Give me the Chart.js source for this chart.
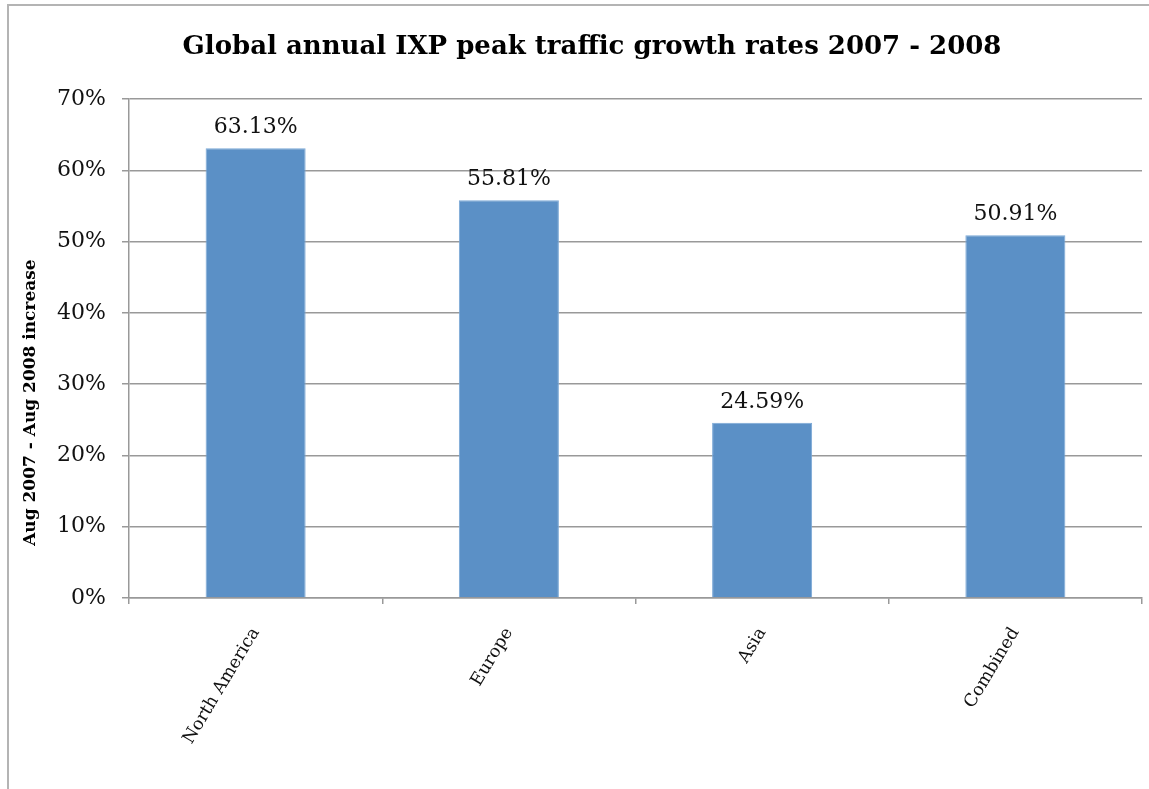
<!DOCTYPE html>
<html>
<head>
<meta charset="utf-8">
<script src="https://cdn.jsdelivr.net/npm/chart.js@4"></script>
<style>
  body { margin: 0; background: #fff; overflow: hidden; }
  #frame { position: absolute; left: 7px; top: 4px; width: 1142px; height: 785px;
           border-left: 2px solid #b4b4b4; border-top: 2px solid #b4b4b4; }
  #canvas { position: absolute; left: 0; top: 0; }
</style>
</head>
<body>
<div id="frame"></div>
<canvas id="canvas" width="1149" height="789"></canvas>
<script>
var regions = ['North America', 'Europe', 'Asia', 'Combined'];
var growth = [63.13, 55.81, 24.59, 50.91];
var yTicks = [0, 10, 20, 30, 40, 50, 60, 70];
var yTitle = 'Aug 2007 - Aug 2008 increase';

var gridGray = '#999999';
var serif = "'DejaVu Serif', 'Liberation Serif', serif";

// writes the value above each bar, and the y title (sits lower than centre in the original)
var valueLabels = {
  id: 'valueLabels',
  afterDatasetsDraw: function(chart) {
    var ctx = chart.ctx;
    var meta = chart.getDatasetMeta(0);
    var area = chart.chartArea;
    ctx.save();
    ctx.font = '22px ' + serif;
    ctx.fillStyle = '#111';
    ctx.textAlign = 'center';
    ctx.textBaseline = 'alphabetic';
    meta.data.forEach(function(bar, i) {
      ctx.fillText(growth[i].toFixed(2) + '%', bar.x, bar.y - 15);
    });

    ctx.translate(31, (area.top + area.bottom) / 2 + 54);
    ctx.rotate(-Math.PI / 2);
    ctx.font = 'bold 17px ' + serif;
    ctx.fillStyle = '#000';
    ctx.textBaseline = 'middle';
    ctx.fillText(yTitle, 0, 0);
    ctx.restore();
  }
};

const ctx = document.getElementById('canvas').getContext('2d');

const myChart = new Chart(ctx, {
  type: 'bar',
  data: {
    labels: regions,
    datasets: [{
      label: 'Growth',
      data: growth,
      backgroundColor: '#5b90c6',
      borderColor: '#7aa8d6',
      borderWidth: 1,
      categoryPercentage: 1,
      barPercentage: 0.395
    }]
  },
  options: {
    responsive: false,
    animation: false,
    // big left padding moves the title centre right, the y axis is narrowed to match
    layout: { padding: { left: 42, right: 7, top: 0, bottom: 0 } },
    plugins: {
      legend: { display: false },
      tooltip: { enabled: false },
      title: {
        display: true,
        text: 'Global annual IXP peak traffic growth rates 2007 - 2008',
        color: '#000',
        font: { family: serif, size: 26, weight: 'bold' },
        padding: { top: 32, bottom: 36 }
      }
    },
    scales: {
      x: {
        grid: {
          offset: true,
          color: function(c) { return c.index === regions.length ? gridGray : 'rgba(0,0,0,0)'; },
          lineWidth: 1.5,
          tickColor: gridGray,
          tickLength: 6
        },
        border: { color: gridGray, width: 1.5 },
        ticks: {
          color: '#111',
          font: { family: serif, size: 17.5 },
          minRotation: 59,
          maxRotation: 59,
          padding: 20
        },
        afterFit: function(scale) { scale.height = 191; }
      },
      y: {
        min: 0,
        max: 70,
        afterBuildTicks: function(scale) {
          scale.ticks = yTicks.map(function(v) { return { value: v }; });
        },
        grid: { color: gridGray, lineWidth: 1.5, tickLength: 7, tickColor: gridGray },
        border: { color: gridGray, width: 1.5 },
        ticks: {
          color: '#111',
          font: { family: serif, size: 22 },
          padding: 16,
          callback: function(v) { return v + '%'; }
        },
        afterFit: function(scale) { scale.width = 87; }
      }
    }
  },
  plugins: [valueLabels]
});
</script>
</body>
</html>
